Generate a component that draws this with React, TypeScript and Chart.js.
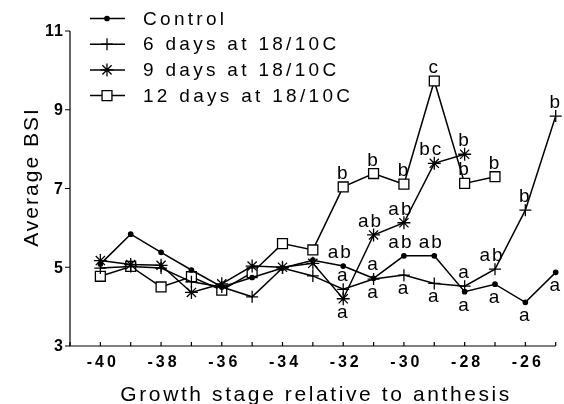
import React, { useEffect, useRef } from 'react';
import { Chart, registerables } from 'chart.js';
import { drawPoint } from 'chart.js/helpers';

Chart.register(...registerables);

// ---------------- data ----------------
const seriesNames = ['Control', '6 days at 18/10C', '9 days at 18/10C', '12 days at 18/10C'];
const stages = [-40, -39, -38, -37, -36, -35, -34, -33, -32, -31, -30, -29, -28, -27, -26, -25];
const control = [5.08, 5.84, 5.38, 4.93, 4.5, 4.74, 4.98, 5.18, 5.03, 4.72, 5.29, 5.29, 4.38, 4.57, 4.11, 4.87];
const sixDays = [4.98, 5.02, 4.98, 4.63, 4.5, 4.25, 4.98, 4.78, 4.44, 4.7, 4.8, 4.59, 4.52, 4.95, 6.45, 8.84];
const nineDays = [5.17, 5.07, 5.05, 4.36, 4.58, 5.03, 5.0, 5.1, 4.2, 5.82, 6.13, 7.64, 7.87];
const twelveDays = [4.77, 5.02, 4.5, 4.76, 4.42, 4.86, 5.6, 5.44, 7.04, 7.38, 7.11, 9.73, 7.13, 7.3];

const xTickLabels = [-40, -38, -36, -34, -32, -30, -28, -26];
const xMinorTicks = [-41, -40, -39, -38, -37, -36, -35, -34, -33, -32, -31, -30, -29, -28, -27, -26, -25];
const yTickLabels = [3, 5, 7, 9, 11];

const xTitle = 'Growth stage relative to anthesis';
const yTitle = 'Average BSI';

// significance letters: [stage, letters, side]
const controlLetters: [number, string, string][] = [
  [-32, 'ab', 'above'], [-31, 'a', 'above'], [-30, 'ab', 'above'], [-29, 'ab', 'above'],
  [-28, 'a', 'below'], [-27, 'a', 'below'], [-26, 'a', 'below'], [-25, 'a', 'below'],
];
const sixDayLetters: [number, string, string][] = [
  [-32, 'a', 'above'], [-31, 'a', 'below'], [-30, 'a', 'below'], [-29, 'a', 'below'],
  [-28, 'a', 'above'], [-27, 'ab', 'above'], [-26, 'b', 'above'], [-25, 'b', 'above'],
];
const nineDayLetters: [number, string, string][] = [
  [-32, 'a', 'below'], [-31, 'ab', 'above'], [-30, 'ab', 'above'], [-29, 'bc', 'above'], [-28, 'b', 'above'],
];
const twelveDayLetters: [number, string, string][] = [
  [-32, 'b', 'above'], [-31, 'b', 'above'], [-30, 'b', 'above'], [-29, 'c', 'above'],
  [-28, 'b', 'above'], [-27, 'b', 'above'],
];

// ---------------- styling ----------------
const FONT = "'Liberation Sans', Arial, Helvetica, sans-serif";
const pointStyles = [
  { pointStyle: 'circle', radius: 2.2, fill: '#000' },
  { pointStyle: 'cross', radius: 6, fill: '#000' },
  { pointStyle: 'star', radius: 6.5, fill: '#000' },
  { pointStyle: 'rect', radius: 7, fill: '#fff' },
];
const seriesValues = [control, sixDays, nineDays, twelveDays];
const seriesLetters = [controlLetters, sixDayLetters, nineDayLetters, twelveDayLetters];

function spacedText(ctx: CanvasRenderingContext2D, text: string, x: number, y: number, spacing: number, align: string) {
  (ctx as any).letterSpacing = spacing + 'px';
  ctx.textAlign = 'left';
  const w = ctx.measureText(text).width - spacing;
  let sx = x;
  if (align === 'center') sx = x - w / 2;
  else if (align === 'right') sx = x - w;
  ctx.fillText(text, sx, y);
  (ctx as any).letterSpacing = '0px';
}

const framePlugin = {
  id: 'frame',
  beforeDatasetsDraw(chart: any) {
    const ctx: CanvasRenderingContext2D = chart.ctx;
    const xs = chart.scales.x;
    const ys = chart.scales.y;
    const left = xs.getPixelForValue(-41);
    const right = xs.getPixelForValue(-25);
    const bottom = ys.getPixelForValue(3);
    const top = ys.getPixelForValue(11);
    ctx.save();
    ctx.strokeStyle = '#000';
    ctx.lineWidth = 1.2;
    ctx.beginPath();
    ctx.moveTo(left, top);
    ctx.lineTo(left, bottom);
    ctx.lineTo(right, bottom);
    ctx.stroke();
    // x ticks (inward)
    ctx.beginPath();
    xMinorTicks.forEach((v) => {
      const px = xs.getPixelForValue(v);
      ctx.moveTo(px, bottom);
      ctx.lineTo(px, bottom - 4);
    });
    // y ticks (outward)
    yTickLabels.forEach((v) => {
      const py = ys.getPixelForValue(v);
      ctx.moveTo(left, py);
      ctx.lineTo(left - 5, py);
    });
    ctx.stroke();
    ctx.fillStyle = '#000';
    ctx.textBaseline = 'middle';
    ctx.font = `bold 16px ${FONT}`;
    yTickLabels.forEach((v) => {
      spacedText(ctx, String(v), left - 7, ys.getPixelForValue(v) + 1, 1, 'right');
    });
    xTickLabels.forEach((v) => {
      spacedText(ctx, String(v), xs.getPixelForValue(v) + 1, bottom + 17, 3, 'center');
    });
    // titles
    ctx.textBaseline = 'alphabetic';
    ctx.font = `21px ${FONT}`;
    spacedText(ctx, xTitle, (left + right) / 2 + 2, 401, 2.6, 'center');
    ctx.save();
    ctx.translate(38, 178);
    ctx.rotate(-Math.PI / 2);
    spacedText(ctx, yTitle, 0, 0, 2, 'center');
    ctx.restore();
    ctx.restore();
  },
  afterDatasetsDraw(chart: any) {
    const ctx: CanvasRenderingContext2D = chart.ctx;
    const xs = chart.scales.x;
    const ys = chart.scales.y;
    ctx.save();
    ctx.fillStyle = '#000';
    // significance letters
    ctx.font = `19px ${FONT}`;
    ctx.textBaseline = 'alphabetic';
    seriesLetters.forEach((list, si) => {
      list.forEach(([stage, txt, side]) => {
        const idx = stages.indexOf(stage);
        const val = seriesValues[si][idx];
        const px = xs.getPixelForValue(stage) + (txt.length > 1 ? -4 : -1);
        const py = ys.getPixelForValue(val) + (side === 'above' ? -8 : 19);
        spacedText(ctx, txt, px, py, 2, 'center');
      });
    });
    // legend
    seriesNames.forEach((name, i) => {
      const y = 18.5 + i * 25.7;
      ctx.strokeStyle = '#000';
      ctx.lineWidth = 1.5;
      ctx.beginPath();
      ctx.moveTo(90, y);
      ctx.lineTo(125, y);
      ctx.stroke();
      const ps = pointStyles[i];
      ctx.fillStyle = ps.fill;
      ctx.lineWidth = 1.3;
      drawPoint(ctx, { pointStyle: ps.pointStyle as any, radius: ps.radius, rotation: 0, borderWidth: 1.3 }, 107, y);
      ctx.fillStyle = '#000';
      ctx.font = `19px ${FONT}`;
      ctx.textBaseline = 'middle';
      spacedText(ctx, name, 143, y + 1, 3.3, 'left');
    });
    ctx.restore();
  },
};

export default function App() {
  const ref = useRef<HTMLCanvasElement | null>(null);
  useEffect(() => {
    if (!ref.current) return;
    const datasets = seriesNames.map((name, i) => ({
      label: name,
      data: seriesValues[i].map((v, j) => ({ x: stages[j], y: v })),
      borderColor: '#000',
      borderWidth: 1.5,
      backgroundColor: pointStyles[i].fill,
      pointBackgroundColor: pointStyles[i].fill,
      pointBorderColor: '#000',
      pointBorderWidth: 1.3,
      pointStyle: pointStyles[i].pointStyle,
      pointRadius: pointStyles[i].radius,
      tension: 0,
      fill: false,
      clip: false,
    }));
    const chart = new Chart(ref.current, {
      type: 'line',
      data: { datasets: datasets as any },
      options: {
        responsive: false,
        animation: false,
        devicePixelRatio: 1,
        layout: { padding: { left: 70, right: 3, top: 31, bottom: 58 } },
        plugins: { legend: { display: false }, tooltip: { enabled: false } },
        scales: {
          x: { type: 'linear', min: -41, max: -25, display: false },
          y: { type: 'linear', min: 3, max: 11, display: false },
        },
      },
      plugins: [framePlugin as any],
    });
    return () => chart.destroy();
  }, []);
  return (
    <div style={{ position: 'fixed', left: 0, top: 0, width: 564, height: 404, background: '#fff' }}>
      <canvas ref={ref} width={564} height={404} />
    </div>
  );
}
